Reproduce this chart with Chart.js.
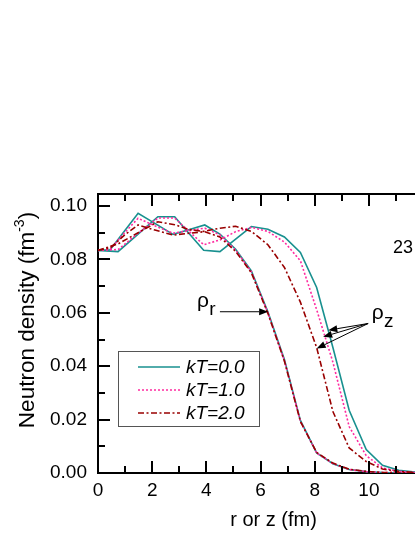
<!DOCTYPE html>
<html>
<head>
<meta charset="utf-8">
<script src="https://cdn.jsdelivr.net/npm/chart.js@4.4.0/dist/chart.umd.min.js"></script>
<style>
  html, body { margin: 0; padding: 0; background: #fff; overflow: hidden; }
  #wrap { width: 415px; height: 537px; }
</style>
</head>
<body>
<div id="wrap"><canvas id="chart" width="415" height="537"></canvas></div>
<script>
// mesh points along r and z (fm)
const rGrid = [0, 0.45, 1.0, 1.48, 2.1, 2.77, 3.35, 3.94, 4.5, 5.08, 5.66, 6.27, 6.88, 7.47, 8.07, 8.67, 9.27, 9.9, 10.5, 11.1, 11.7];
const zGrid = [0, 0.74, 1.48, 2.21, 2.83, 3.36, 3.9, 4.5, 5.08, 5.66, 6.27, 6.88, 7.47, 8.07, 8.67, 9.27, 9.9, 10.5, 11.1, 11.7];

// neutron density (fm^-3), radial profiles
const rhoR_kT0 = [0.0834, 0.0836, 0.0909, 0.0973, 0.0935, 0.0894, 0.0911, 0.0929, 0.0895, 0.0838, 0.0757, 0.0604, 0.0425, 0.0197, 0.0075, 0.0035, 0.0013, 0.0005, 0.0002, 0.0001, 0.00005];
const rhoR_kT1 = [0.0834, 0.0838, 0.0902, 0.0954, 0.0926, 0.0898, 0.0908, 0.0917, 0.0892, 0.0835, 0.0754, 0.0600, 0.0421, 0.0194, 0.0075, 0.0035, 0.0013, 0.0005, 0.0002, 0.0001, 0.00005];
const rhoR_kT2 = [0.0834, 0.0843, 0.0893, 0.0929, 0.0910, 0.0891, 0.0898, 0.0904, 0.0884, 0.0830, 0.0750, 0.0598, 0.0419, 0.0193, 0.0077, 0.0037, 0.0014, 0.0006, 0.0002, 0.0001, 0.00005];

// neutron density (fm^-3), axial profiles
const rhoZ_kT0 = [0.0834, 0.0829, 0.0895, 0.0960, 0.0960, 0.0897, 0.0834, 0.0829, 0.0876, 0.0923, 0.0913, 0.0884, 0.0826, 0.0695, 0.0470, 0.0235, 0.0088, 0.0029, 0.0010, 0.0004];
const rhoZ_kT1 = [0.0834, 0.0837, 0.0898, 0.0955, 0.0955, 0.0905, 0.0855, 0.0873, 0.0904, 0.0920, 0.0905, 0.0865, 0.0795, 0.0612, 0.0415, 0.0174, 0.0065, 0.0019, 0.0006, 0.0002];
const rhoZ_kT2 = [0.0834, 0.0858, 0.0900, 0.0941, 0.0930, 0.0912, 0.0905, 0.0917, 0.0924, 0.0905, 0.0855, 0.0770, 0.0640, 0.0470, 0.0230, 0.0094, 0.0043, 0.0015, 0.0006, 0.0002];

const seriesLabels = ['kT=0.0', 'kT=1.0', 'kT=2.0'];
const xTitle = 'r or z (fm)';
const yTitle = 'Neutron density (fm';

const FONT = "'Liberation Sans', Arial, Helvetica, sans-serif";
const styles = [
  { color: '#18908f', dash: [], width: 1.6 },
  { color: '#ff2aa0', dash: [2, 2], width: 1.6 },
  { color: '#990000', dash: [6, 2.5, 2, 2.5], width: 1.6 }
];

const pts = (xs, ys) => xs.map((x, i) => ({ x, y: ys[i] }));

function makeSet(label, data, s, order) {
  return {
    label, data, order,
    borderColor: s.color, borderDash: s.dash, borderWidth: s.width,
    pointRadius: 0, tension: 0, fill: false
  };
}

const datasets = [
  makeSet('rho_r ' + seriesLabels[0], pts(rGrid, rhoR_kT0), styles[0], 3),
  makeSet('rho_r ' + seriesLabels[1], pts(rGrid, rhoR_kT1), styles[1], 2),
  makeSet('rho_r ' + seriesLabels[2], pts(rGrid, rhoR_kT2), styles[2], 1),
  makeSet('rho_z ' + seriesLabels[0], pts(zGrid, rhoZ_kT0), styles[0], 3),
  makeSet('rho_z ' + seriesLabels[1], pts(zGrid, rhoZ_kT1), styles[1], 2),
  makeSet('rho_z ' + seriesLabels[2], pts(zGrid, rhoZ_kT2), styles[2], 1)
];

function arrow(ctx, x0, y0, x1, y1) {
  const ang = Math.atan2(y1 - y0, x1 - x0);
  const hl = 9, hw = 3.5;
  ctx.beginPath();
  ctx.moveTo(x0, y0);
  ctx.lineTo(x1 - hl * Math.cos(ang), y1 - hl * Math.sin(ang));
  ctx.stroke();
  ctx.beginPath();
  ctx.moveTo(x1, y1);
  ctx.lineTo(x1 - hl * Math.cos(ang) + hw * Math.sin(ang), y1 - hl * Math.sin(ang) - hw * Math.cos(ang));
  ctx.lineTo(x1 - hl * Math.cos(ang) - hw * Math.sin(ang), y1 - hl * Math.sin(ang) + hw * Math.cos(ang));
  ctx.closePath();
  ctx.fill();
}

// frame, inward ticks, titles, legend and labels
const decor = {
  id: 'decor',
  afterDraw(chart) {
    const { ctx, chartArea: a, scales: { x, y } } = chart;
    ctx.save();
    ctx.strokeStyle = '#000';
    ctx.fillStyle = '#000';
    ctx.lineWidth = 2;
    ctx.setLineDash([]);

    ctx.beginPath();
    ctx.moveTo(a.left - 1, a.top);
    ctx.lineTo(a.right, a.top);
    ctx.stroke();

    ctx.beginPath();
    x.ticks.forEach(t => {
      const px = Math.round(x.getPixelForValue(t.value));
      const len = Math.round(t.value) % 2 === 0 ? 12 : 7;
      ctx.moveTo(px, a.bottom); ctx.lineTo(px, a.bottom - len);
      ctx.moveTo(px, a.top); ctx.lineTo(px, a.top + len);
    });
    y.ticks.forEach(t => {
      const py = Math.round(y.getPixelForValue(t.value));
      const len = Math.round(t.value * 100) % 2 === 0 ? 12 : 7;
      ctx.moveTo(a.left, py); ctx.lineTo(a.left + len, py);
    });
    ctx.stroke();

    // axis titles
    ctx.textAlign = 'center';
    ctx.textBaseline = 'alphabetic';
    ctx.font = `20px ${FONT}`;
    ctx.fillText(xTitle, 273.5, 526);

    ctx.save();
    ctx.translate(34, 320);
    ctx.rotate(-Math.PI / 2);
    ctx.textAlign = 'left';
    ctx.font = `22.5px ${FONT}`;
    const w1 = ctx.measureText(yTitle).width;
    const w3 = ctx.measureText(')').width;
    ctx.font = `14px ${FONT}`;
    const w2 = ctx.measureText('-3').width;
    let sx = -(w1 + w2 + w3) / 2;
    ctx.font = `22.5px ${FONT}`;
    ctx.fillText(yTitle, sx, 0);
    ctx.font = `14px ${FONT}`;
    ctx.fillText('-3', sx + w1, -10);
    ctx.font = `22.5px ${FONT}`;
    ctx.fillText(')', sx + w1 + w2, 0);
    ctx.restore();

    // legend
    ctx.lineWidth = 1;
    ctx.strokeStyle = '#555';
    ctx.strokeRect(118.5, 351.5, 141, 75);
    ctx.font = `italic 19px ${FONT}`;
    ctx.textAlign = 'left';
    ctx.textBaseline = 'middle';
    seriesLabels.forEach((lab, i) => {
      const ly = 367 + i * 23;
      const s = styles[i];
      ctx.strokeStyle = s.color;
      ctx.lineWidth = s.width;
      ctx.setLineDash(s.dash);
      ctx.beginPath();
      ctx.moveTo(138, ly); ctx.lineTo(180, ly);
      ctx.stroke();
      ctx.setLineDash([]);
      ctx.fillStyle = '#000';
      ctx.fillText(lab, 186, ly + 1);
    });

    // rho_r / rho_z labels with arrows
    ctx.textBaseline = 'alphabetic';
    ctx.fillStyle = '#000';
    ctx.strokeStyle = '#000';
    ctx.lineWidth = 1;
    ctx.font = `21px ${FONT}`;
    let px = x.getPixelForValue(3.65);
    ctx.fillText('\u03C1', px, y.getPixelForValue(0.0620));
    let gw = ctx.measureText('\u03C1').width;
    ctx.font = `19px ${FONT}`;
    ctx.fillText('r', px + gw + 0.5, y.getPixelForValue(0.0591));
    arrow(ctx, x.getPixelForValue(4.5), y.getPixelForValue(0.0604), x.getPixelForValue(6.28), y.getPixelForValue(0.0604));

    ctx.font = `21px ${FONT}`;
    px = x.getPixelForValue(10.1);
    ctx.fillText('\u03C1', px, y.getPixelForValue(0.0576));
    gw = ctx.measureText('\u03C1').width;
    ctx.font = `19px ${FONT}`;
    ctx.fillText('z', px + gw + 0.5, y.getPixelForValue(0.0546));
    const ox = x.getPixelForValue(9.97), oy = y.getPixelForValue(0.056);
    arrow(ctx, ox, oy, x.getPixelForValue(8.50), y.getPixelForValue(0.0535));
    arrow(ctx, ox, oy, x.getPixelForValue(8.31), y.getPixelForValue(0.0510));
    arrow(ctx, ox, oy, x.getPixelForValue(8.07), y.getPixelForValue(0.0466));

    ctx.font = `18px ${FONT}`;
    ctx.fillText('23', x.getPixelForValue(10.89), y.getPixelForValue(0.0824));

    ctx.restore();
  }
};

new Chart(document.getElementById('chart'), {
  type: 'line',
  data: { datasets },
  options: {
    responsive: false,
    animation: false,
    layout: { padding: { top: 194, right: 0, left: 0, bottom: 0 } },
    plugins: { legend: { display: false }, tooltip: { enabled: false } },
    scales: {
      x: {
        type: 'linear',
        min: 0,
        max: 11.7,
        afterFit: s => { s.height = 64; },
        grid: { display: false, drawTicks: false, tickLength: 0 },
        border: { display: true, width: 2, color: '#000' },
        ticks: {
          stepSize: 1,
          includeBounds: false,
          autoSkip: false,
          maxRotation: 0,
          padding: 6,
          color: '#000',
          font: { family: FONT, size: 19 },
          callback: v => (Math.round(v) % 2 === 0 ? String(Math.round(v)) : '')
        }
      },
      y: {
        min: 0,
        max: 0.1045,
        afterFit: s => { s.width = 98; },
        grid: { display: false, drawTicks: false, tickLength: 0 },
        border: { display: true, width: 2, color: '#000' },
        ticks: {
          stepSize: 0.01,
          includeBounds: false,
          autoSkip: false,
          padding: 11,
          color: '#000',
          font: { family: FONT, size: 19 },
          callback: v => (Math.round(v * 100) % 2 === 0 ? v.toFixed(2) : '')
        }
      }
    }
  },
  plugins: [decor]
});
</script>
</body>
</html>
